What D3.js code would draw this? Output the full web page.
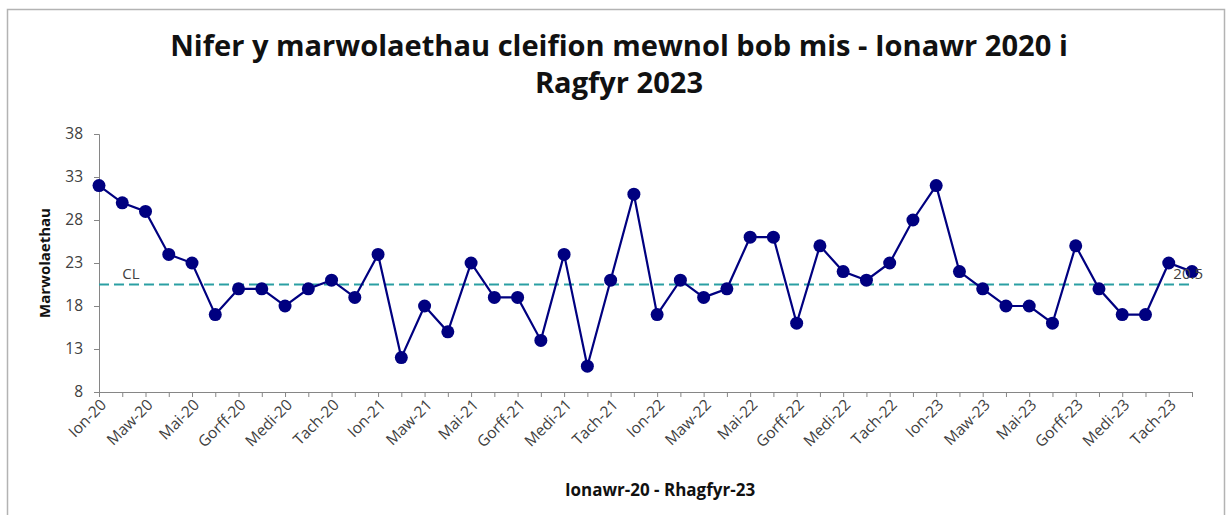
<!DOCTYPE html>
<html>
<head>
<meta charset="utf-8">
<script src="https://cdn.jsdelivr.net/npm/d3@7"></script>
<style>
  html, body { margin: 0; padding: 0; background: #fff; }
  svg { display: block; }
</style>
</head>
<body>
<svg id="chart" width="1227" height="515"></svg>
<script>
// ---- Data ----
const monthNames = ["Ion","Chwe","Maw","Ebr","Mai","Meh","Gorff","Awst","Medi","Hyd","Tach","Rhag"];
const years = ["20","21","22","23"];
const categories = [];
years.forEach(y => monthNames.forEach(m => categories.push(m + "-" + y)));
const deaths = [
  32,30,29,24,23,17,20,20,18,20,21,19,
  24,12,18,15,23,19,19,14,24,11,21,31,
  17,21,19,20,26,26,16,25,22,21,23,28,
  32,22,20,18,18,16,25,20,17,17,23,22
];
const centreLine = 20.5;
const yTicks = [8,13,18,23,28,33,38];
const titleLines = ["Nifer y marwolaethau cleifion mewnol bob mis - Ionawr 2020 i", "Ragfyr 2023"];
const yTitle = "Marwolaethau";
const xTitle = "Ionawr-20 - Rhagfyr-23";

// ---- Layout ----
const svg = d3.select("#chart");
const font = "'Open Sans', 'Liberation Sans', sans-serif";
const textCol = "#404040";

// outer border
svg.append("rect").attr("x", 7.5).attr("y", 9.5).attr("width", 1217).attr("height", 520)
  .attr("fill", "none").attr("stroke", "#b3b3b3").attr("stroke-width", 1.5);

const x = d3.scalePoint().domain(d3.range(categories.length)).range([99, 1192]);
const y = d3.scaleLinear().domain([8, 38]).range([392, 134]);

// title
const t1 = svg.append("text").attr("text-anchor", "middle").attr("x", 619).attr("y", 56)
  .attr("font-family", font).attr("font-weight", "bold").attr("fill", "#111")
  .attr("font-size", 26).text(titleLines[0]);
const fs = 26 * 898 / t1.node().getComputedTextLength();
t1.attr("font-size", fs);
svg.append("text").attr("text-anchor", "middle").attr("x", 619).attr("y", 93)
  .attr("font-family", font).attr("font-weight", "bold").attr("fill", "#111")
  .attr("font-size", fs).text(titleLines[1]);

// y axis
const yAxis = svg.append("g").attr("transform", "translate(99,0)")
  .call(d3.axisLeft(y).tickValues(yTicks).tickSize(5).tickPadding(11));
yAxis.select(".domain").attr("stroke", "#868686");
yAxis.selectAll(".tick line").attr("stroke", "#868686");
yAxis.selectAll(".tick text").attr("font-family", font).attr("font-size", 15.5).attr("fill", textCol);

// x axis
const xAxis = svg.append("g").attr("transform", "translate(0,392)")
  .call(d3.axisBottom(x).tickSize(5).tickSizeOuter(0)
    .tickFormat(i => (i % 2 === 0 ? categories[i] : "")));
xAxis.select(".domain").attr("stroke", "#868686");
xAxis.selectAll(".tick line").attr("stroke", "#868686");
xAxis.selectAll(".tick text")
  .attr("font-family", font).attr("font-size", 15.5).attr("fill", textCol)
  .attr("text-anchor", "end")
  .attr("transform", "translate(4,10) rotate(-45)")
  .attr("dy", "0.35em").attr("y", 0).attr("x", 0);

// axis titles
svg.append("text").attr("transform", "translate(50,263) rotate(-90)")
  .attr("text-anchor", "middle").attr("font-family", font).attr("font-weight", "bold")
  .attr("font-size", 15).attr("fill", "#111").text(yTitle);
const xt = svg.append("text").attr("x", 660).attr("y", 496)
  .attr("text-anchor", "middle").attr("font-family", font).attr("font-weight", "bold")
  .attr("font-size", 15).attr("fill", "#111").text(xTitle);
xt.attr("font-size", Math.min(17, 15 * 205 / xt.node().getComputedTextLength()));

// centre line
svg.append("line")
  .attr("x1", x(0)).attr("x2", x(categories.length - 1))
  .attr("y1", y(centreLine)).attr("y2", y(centreLine))
  .attr("stroke", "#2b9fa3").attr("stroke-width", 2).attr("stroke-dasharray", "10,5");
svg.append("text").attr("x", x(1)).attr("y", y(centreLine) - 6)
  .attr("font-family", font).attr("font-size", 15).attr("fill", textCol).text("CL");

// series line
const line = d3.line().x((d, i) => x(i)).y(d => y(d));
svg.append("path").datum(deaths).attr("d", line)
  .attr("fill", "none").attr("stroke", "#000080").attr("stroke-width", 2.2);

svg.selectAll("circle.pt").data(deaths).join("circle").attr("class", "pt")
  .attr("cx", (d, i) => x(i)).attr("cy", d => y(d)).attr("r", 6.5)
  .attr("fill", "#000080");

// end value label
svg.append("text").attr("x", x(categories.length - 1) + 11).attr("y", y(centreLine) - 6)
  .attr("text-anchor", "end").attr("font-family", font).attr("font-size", 15).attr("fill", textCol)
  .text(centreLine);
</script>
</body>
</html>
